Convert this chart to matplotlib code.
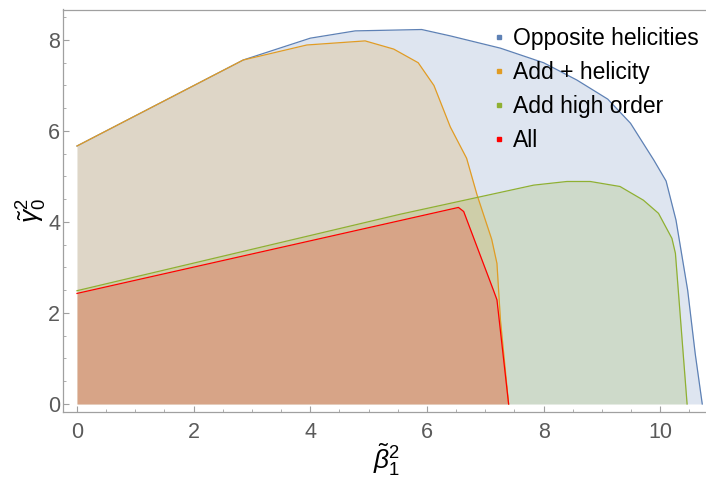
import numpy as np
import matplotlib
matplotlib.use("Agg")
import matplotlib.pyplot as plt
from matplotlib.lines import Line2D
from matplotlib.ticker import MultipleLocator

plt.rcParams['font.family'] = ['Liberation Sans', 'DejaVu Sans']
plt.rcParams['mathtext.fontset'] = 'custom'
plt.rcParams['mathtext.it'] = 'Liberation Sans:italic'
plt.rcParams['mathtext.rm'] = 'Liberation Sans'

# boundary curves
opp_x = [0, 2.85, 4.0, 4.77, 5.91, 6.4, 7.26, 8.0, 8.57, 9.1, 9.49, 9.89, 10.1, 10.27, 10.47, 10.6, 10.72]
opp_y = [5.67, 7.56, 8.04, 8.20, 8.23, 8.09, 7.82, 7.5, 7.12, 6.7, 6.17, 5.36, 4.9, 4.04, 2.5, 1.1, 0]

plus_x = [0, 2.85, 3.94, 4.94, 5.43, 5.85, 6.12, 6.4, 6.68, 6.86, 7.11, 7.2, 7.26, 7.40]
plus_y = [5.67, 7.56, 7.89, 7.98, 7.80, 7.50, 7.0, 6.09, 5.4, 4.59, 3.62, 3.09, 1.85, 0]

high_x = [0, 5.54, 7.83, 8.40, 8.80, 9.31, 9.71, 9.97, 10.2, 10.26, 10.46]
high_y = [2.49, 4.17, 4.81, 4.89, 4.89, 4.78, 4.48, 4.19, 3.64, 3.31, 0]

all_x = [0, 6.54, 6.63, 7.14, 7.2, 7.40]
all_y = [2.43, 4.32, 4.23, 2.5, 2.29, 0]

labels = ["Opposite helicities", "Add + helicity", "Add high order", "All"]
colors = ["#5e81b5", "#e19c24", "#8fb032", "#ff0000"]

fig = plt.figure(figsize=(7.06, 4.79), dpi=100)
ax = fig.add_axes([63 / 706, 67 / 479, (711 - 63) / 706, (412 - 9.5) / 479])

for (x, y), c in zip([(opp_x, opp_y), (plus_x, plus_y), (high_x, high_y), (all_x, all_y)], colors):
    ax.fill_between(x, y, 0, color=c, alpha=0.2, linewidth=0)
    ax.plot(x, y, color=c, lw=0.9)

ax.set_xlim(-0.24, 10.87)
ax.set_ylim(-0.176, 8.67)
ax.xaxis.set_major_locator(MultipleLocator(2))
ax.xaxis.set_minor_locator(MultipleLocator(0.5))
ax.yaxis.set_major_locator(MultipleLocator(2))
ax.yaxis.set_minor_locator(MultipleLocator(0.5))
ax.tick_params(which='both', direction='in', color='#a0a0a0', labelcolor='#5a5a5a',
               labelsize=15.5, top=False, right=False)
ax.tick_params(which='major', length=4, width=0.8)
ax.tick_params(which='minor', length=2, width=0.6)
ax.tick_params(axis='x', pad=7)
ax.tick_params(axis='y', pad=2)
for s in ax.spines.values():
    s.set_color('#a0a0a0')
    s.set_linewidth(0.9)
ax.spines['right'].set_visible(False)

ax.set_xlabel(r'$\tilde{\beta}_1^2$', fontsize=19, labelpad=-1)
ax.set_ylabel(r'$\tilde{\gamma}_0^2$', fontsize=19, labelpad=-1)

handles = [Line2D([], [], marker='s', ls='none', color=c, markersize=3) for c in colors]
fig.legend(handles, labels, loc='upper left', bbox_to_anchor=(492 / 706, 1 - 27 / 479),
           frameon=False, fontsize=16.5, borderpad=0, handlelength=0.6,
           handletextpad=0.3, labelspacing=0.48, borderaxespad=0)

fig.savefig("out.png", dpi=100)
